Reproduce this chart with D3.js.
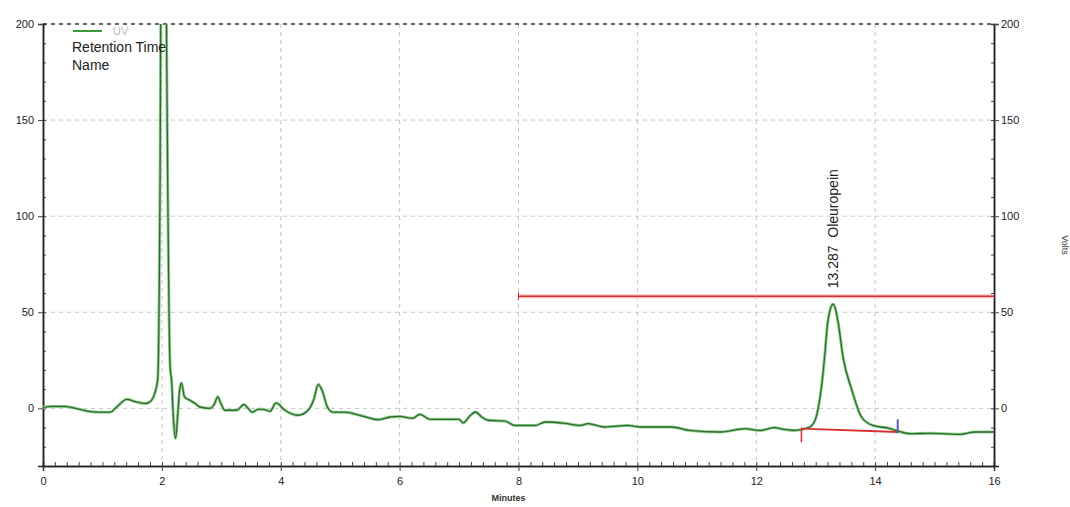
<!DOCTYPE html>
<html>
<head>
<meta charset="utf-8">
<script src="https://cdn.jsdelivr.net/npm/d3@7"></script>
<style>
  body { margin: 0; background: #fff; }
  text { font-family: Arial, "Liberation Sans", sans-serif; }
</style>
</head>
<body>
<div class="chart"></div>
<script>
var svgWidth = 1070;
var svgHeight = 507;

var margin = { top: 24, right: 76, bottom: 41, left: 43 };

var width = svgWidth - margin.left - margin.right;
var height = svgHeight - margin.top - margin.bottom;

// data: UV trace (minutes, volts)
var minutes = [0.00, 0.15, 0.35, 0.55, 0.75, 0.95, 1.13, 1.25, 1.41, 1.55, 1.72, 1.82, 1.88, 1.93, 1.955, 1.97, 1.985, 2.03, 2.075, 2.085,
  2.10, 2.12, 2.14, 2.165, 2.19, 2.23, 2.27, 2.30, 2.33, 2.38, 2.47, 2.56, 2.64, 2.81, 2.88, 2.94, 3.00, 3.06, 3.26, 3.38,
  3.45, 3.52, 3.62, 3.70, 3.82, 3.92, 4.07, 4.29, 4.46, 4.56, 4.63, 4.70, 4.78, 4.88, 5.08, 5.33, 5.64, 5.84, 6.00, 6.22,
  6.34, 6.51, 7.00, 7.07, 7.18, 7.28, 7.38, 7.49, 7.77, 7.94, 8.28, 8.45, 8.78, 9.03, 9.17, 9.45, 9.84, 10.04, 10.58, 10.88,
  11.39, 11.81, 12.06, 12.31, 12.40, 12.65, 12.90, 12.99, 13.09, 13.15, 13.20, 13.25, 13.29, 13.33, 13.38, 13.46, 13.61, 13.77, 13.96, 14.25,
  14.38, 14.59, 14.92, 15.43, 15.68, 16.00];
var volts = [0.5, 1, 1, 0, -1.5, -2, -2, 1, 4.7, 3.5, 2.5, 4, 7.8, 15, 60, 120, 230, 300, 210, 168,
  110, 50, 21, 14, -3, -15.6, -2, 10, 13.2, 6, 4.2, 2.5, 0.7, 0, 2, 6, 2, -1, -1, 2,
  0, -2, -0.5, -0.5, -1.5, 2.8, -1, -3.6, -1, 5, 12.5, 9, 1, -2, -2, -3.6, -5.9, -4.5, -4.2, -5.2,
  -3.1, -5.7, -5.7, -7.6, -4, -1.9, -4.5, -6.2, -6.6, -8.9, -8.9, -7.1, -7.8, -8.9, -8, -9.7, -8.9, -9.7, -9.7, -11.5,
  -12.3, -10.6, -11.5, -10, -10.6, -11.5, -9.7, -6.2, 9.4, 26.7, 44.3, 52, 54.2, 52, 44.3, 26.7, 9.4, -4.5, -8.9, -10.5,
  -11.8, -13.2, -13, -13.5, -12.3, -12.3];

// peak annotation / integration marks
var peakTime = 13.287;
var peakName = "Oleuropein";
var windowStart = 8;
var windowEnd = 16;
var windowLevel = 58.3;
var baseStart = [12.76, -10.5];
var baseEnd = [14.38, -12.3];
var startTick = [-10, -17.7];
var endTick = [-5.7, -13];

var xTicks = [0, 2, 4, 6, 8, 10, 12, 14, 16];
var yTicks = [0, 50, 100, 150, 200];

var svg = d3.select(".chart")
  .append("svg")
  .attr("width", svgWidth)
  .attr("height", svgHeight);

var chartGroup = svg.append("g")
  .attr("transform", `translate(${margin.left}, ${margin.top})`);

// scales
var xScale = d3.scaleLinear().domain([0, 16]).range([0, width]);
var yScale = d3.scaleLinear().domain([-30, 200]).range([height, 0]);

svg.append("defs").append("clipPath")
  .attr("id", "clip")
  .append("rect")
  .attr("width", width)
  .attr("height", height);

// grid
chartGroup.selectAll(".vgrid")
  .data(xTicks.filter(d => d > 0 && d < 16))
  .enter()
  .append("line")
  .attr("x1", d => xScale(d))
  .attr("x2", d => xScale(d))
  .attr("y1", 0)
  .attr("y2", height)
  .attr("stroke", "#c4c4c4")
  .attr("stroke-dasharray", "4,4");

chartGroup.selectAll(".hgrid")
  .data(yTicks)
  .enter()
  .append("line")
  .attr("x1", 0)
  .attr("x2", width)
  .attr("y1", d => yScale(d))
  .attr("y2", d => yScale(d))
  .attr("stroke", d => d === 200 ? "#333" : "#c4c4c4")
  .attr("stroke-width", d => d === 200 ? 1.5 : 1)
  .attr("stroke-dasharray", "4,4");

// axes
var fmt = d3.format("d");
var xAxis = d3.axisBottom(xScale).tickValues(xTicks).tickFormat(fmt).tickSize(5).tickPadding(6);
var xMinor = d3.axisTop(xScale).ticks(80).tickFormat("").tickSize(4);
var yLeft = d3.axisLeft(yScale).tickValues(yTicks).tickFormat(fmt).tickSize(5).tickPadding(4);
var yLeftMinor = d3.axisRight(yScale).tickValues(d3.range(-30, 201, 10)).tickFormat("").tickSize(3);
var yRight = d3.axisRight(yScale).tickValues(yTicks).tickFormat(fmt).tickSize(5).tickPadding(2);
var yRightMinor = d3.axisLeft(yScale).tickValues(d3.range(-30, 201, 10)).tickFormat("").tickSize(3);

function styleAxis(g) {
  g.select(".domain").attr("stroke", "#222").attr("stroke-width", 1.5);
  g.selectAll(".tick line").attr("stroke", "#444");
  g.selectAll("text").attr("fill", "#222").attr("font-size", 11).attr("font-family", "Arial, sans-serif");
}

chartGroup.append("g").attr("transform", `translate(0, ${height})`).call(xMinor).call(styleAxis);
chartGroup.append("g").attr("transform", `translate(0, ${height})`).call(xAxis).call(styleAxis);
chartGroup.append("g").call(yLeftMinor).call(styleAxis);
chartGroup.append("g").call(yLeft).call(styleAxis);
chartGroup.append("g").attr("transform", `translate(${width}, 0)`).call(yRightMinor).call(styleAxis);
chartGroup.append("g").attr("transform", `translate(${width}, 0)`).call(yRight).call(styleAxis);

// integration window line
chartGroup.append("line")
  .attr("x1", xScale(windowStart)).attr("x2", xScale(windowEnd))
  .attr("y1", yScale(windowLevel)).attr("y2", yScale(windowLevel))
  .attr("stroke", "#f4c0c0").attr("stroke-width", 4);
chartGroup.append("line")
  .attr("x1", xScale(windowStart)).attr("x2", xScale(windowEnd))
  .attr("y1", yScale(windowLevel)).attr("y2", yScale(windowLevel))
  .attr("stroke", "#d83030").attr("stroke-width", 1.5);
chartGroup.append("line")
  .attr("x1", xScale(windowStart)).attr("x2", xScale(windowStart))
  .attr("y1", yScale(windowLevel) - 4).attr("y2", yScale(windowLevel) + 4)
  .attr("stroke", "#d83030").attr("stroke-width", 1);

// trace
var trace = minutes.map((m, i) => [m, volts[i]]);
var line = d3.line()
  .curve(d3.curveMonotoneX)
  .x(d => xScale(d[0]))
  .y(d => yScale(d[1]));

var traceGroup = chartGroup.append("g").attr("clip-path", "url(#clip)");
traceGroup.append("path")
  .attr("d", line(trace))
  .attr("fill", "none")
  .attr("stroke", "#8fd08f")
  .attr("stroke-width", 3);
traceGroup.append("path")
  .attr("d", line(trace))
  .attr("fill", "none")
  .attr("stroke", "#2f6a2f")
  .attr("stroke-width", 1.3);

// baseline + markers
chartGroup.append("line")
  .attr("x1", xScale(baseStart[0])).attr("x2", xScale(baseEnd[0]))
  .attr("y1", yScale(baseStart[1])).attr("y2", yScale(baseEnd[1]))
  .attr("stroke", "#d83030").attr("stroke-width", 1.8);
chartGroup.append("line")
  .attr("x1", xScale(baseStart[0])).attr("x2", xScale(baseStart[0]))
  .attr("y1", yScale(startTick[0])).attr("y2", yScale(startTick[1]))
  .attr("stroke", "#d83030").attr("stroke-width", 1.5);
chartGroup.append("line")
  .attr("x1", xScale(baseEnd[0])).attr("x2", xScale(baseEnd[0]))
  .attr("y1", yScale(endTick[0])).attr("y2", yScale(endTick[1]))
  .attr("stroke", "#5060b0").attr("stroke-width", 2);

// peak label
chartGroup.append("text")
  .attr("transform", `translate(${xScale(peakTime) + 5}, ${yScale(windowLevel) - 8}) rotate(-90)`)
  .attr("font-size", 14)
  .attr("fill", "#222")
  .attr("xml:space", "preserve")
  .text(peakTime.toFixed(3) + "  " + peakName);

// legend
chartGroup.append("line")
  .attr("x1", 30).attr("x2", 59).attr("y1", 7).attr("y2", 7)
  .attr("stroke", "#3a9a3a").attr("stroke-width", 2);
chartGroup.append("text")
  .attr("x", 70).attr("y", 11)
  .attr("font-size", 11).attr("fill", "#bbb")
  .text("UV");
chartGroup.append("text")
  .attr("x", 29).attr("y", 28)
  .attr("font-size", 14).attr("fill", "#222")
  .text("Retention Time");
chartGroup.append("text")
  .attr("x", 29).attr("y", 46)
  .attr("font-size", 14).attr("fill", "#222")
  .text("Name");

// axis titles
svg.append("text")
  .attr("x", margin.left + xScale(8) - 10)
  .attr("y", 501)
  .attr("text-anchor", "middle")
  .attr("font-size", 9)
  .attr("font-weight", "bold")
  .attr("fill", "#333")
  .text("Minutes");

svg.append("text")
  .attr("transform", "translate(1062, 245) rotate(90)")
  .attr("text-anchor", "middle")
  .attr("font-size", 9)
  .attr("fill", "#333")
  .text("Volts");
</script>
</body>
</html>
